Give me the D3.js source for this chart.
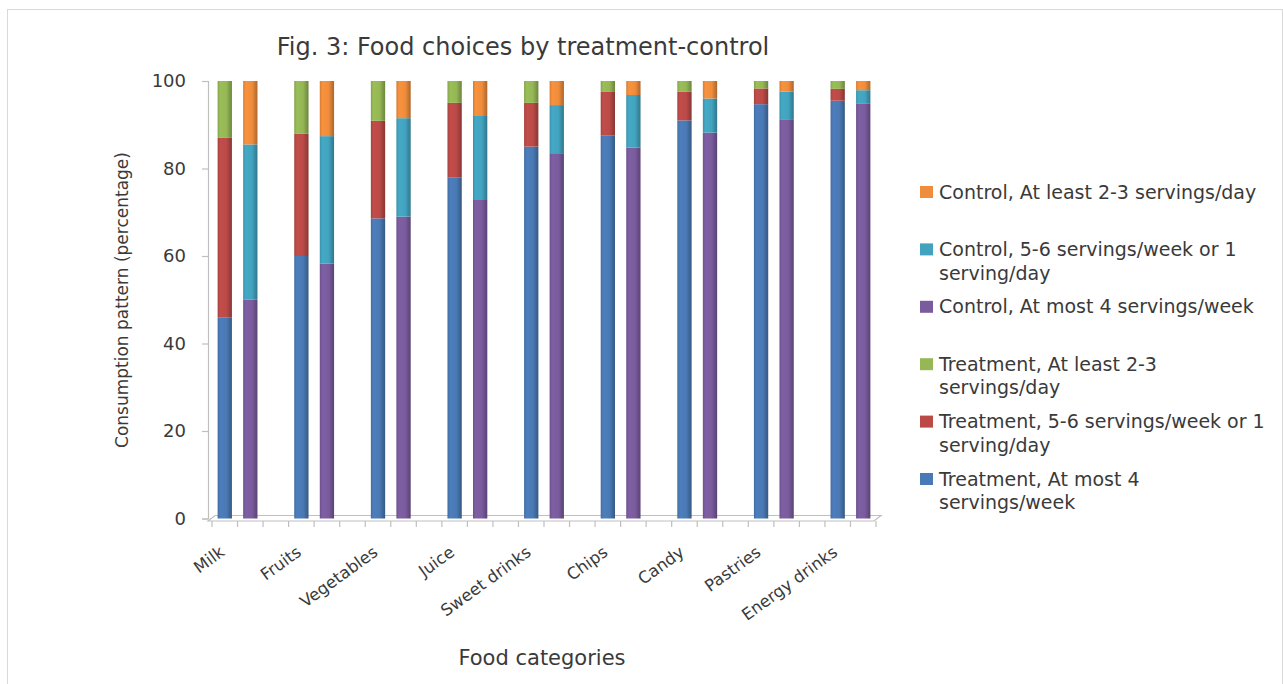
<!DOCTYPE html>
<html><head><meta charset="utf-8">
<script src="https://cdn.jsdelivr.net/npm/d3@7"></script>
<style>
body{margin:0;background:#fff}
svg{display:block}
text{font-family:"DejaVu Sans",sans-serif;fill:#3a3a3a}
</style>
</head><body>
<svg id="c" width="1283" height="684"></svg>
<script>
const categories = ["Milk","Fruits","Vegetables","Juice","Sweet drinks","Chips","Candy","Pastries","Energy drinks"];
const treatmentAtMost4    = [46, 60, 68.6, 78, 85, 87.5, 91, 94.7, 95.5];
const treatment56         = [41, 28, 22.3, 17, 10, 10, 6.6, 3.6, 2.7];
const treatmentAtLeast23  = [13, 12, 9.1, 5, 5, 2.5, 2.4, 1.7, 1.8];
const controlAtMost4      = [50, 58.3, 69, 72.8, 83.5, 84.8, 88.2, 91.1, 94.9];
const control56           = [35.5, 29.1, 22.5, 19.2, 11, 12, 7.8, 6.5, 3];
const controlAtLeast23    = [14.5, 12.6, 8.5, 8, 5.5, 3.2, 4, 2.4, 2.1];
const yTicks = [0, 20, 40, 60, 80, 100];
const title = "Fig. 3: Food choices by treatment-control";
const yTitle = "Consumption pattern (percentage)";
const xTitle = "Food categories";
const legendItems = [
  {key:"cHigh", lines:["Control, At least 2-3 servings/day"]},
  {key:"cMid",  lines:["Control, 5-6 servings/week or 1","serving/day"]},
  {key:"cLow",  lines:["Control, At most 4 servings/week"]},
  {key:"tHigh", lines:["Treatment, At least 2-3","servings/day"]},
  {key:"tMid",  lines:["Treatment, 5-6 servings/week or 1","serving/day"]},
  {key:"tLow",  lines:["Treatment, At most 4","servings/week"]}
];

const colors = {tLow:"#4a7ab5", tMid:"#bb4a47", tHigh:"#95b755", cLow:"#7a5c9e", cMid:"#42a3bf", cHigh:"#ef8d3c"};

const svg = d3.select("#c");
const defs = svg.append("defs");
Object.entries(colors).forEach(([k,c])=>{
  const g = defs.append("linearGradient").attr("id","g_"+k).attr("x1","0").attr("x2","1").attr("y1","0").attr("y2","0");
  const base = d3.color(c);
  g.append("stop").attr("offset","0%").attr("stop-color", base.darker(0.35));
  g.append("stop").attr("offset","18%").attr("stop-color", base.brighter(0.1));
  g.append("stop").attr("offset","62%").attr("stop-color", base);
  g.append("stop").attr("offset","100%").attr("stop-color", base.darker(0.9));
});

// outer border
svg.append("rect").attr("x",7.5).attr("y",9.5).attr("width",1275).attr("height",690)
  .attr("fill","none").attr("stroke","#d9d9d9");

// slots: Treatment, Control, gap per category
const slots = [];
categories.forEach((c,i)=>{
  slots.push(c+"|T"); slots.push(c+"|C");
  if(i < categories.length-1) slots.push(c+"|gap");
});

const x = d3.scaleBand().domain(slots).range([212, 876]).paddingInner(0.44).paddingOuter(0.22);
const y = d3.scaleLinear().domain([0,100]).range([518.5, 81]);

// floor (3D base)
const fx0 = x.range()[0]-4, fx1 = x.range()[1]-2, fy = y(0);
const floor = svg.append("g").attr("stroke","#bfbfbf").attr("fill","none").attr("stroke-width",1.2);
floor.append("path").attr("d",`M${fx0},${fy+2.5}L${fx1},${fy+2.5}L${fx1+7},${fy-3}L${fx0+7},${fy-3}Z`);

// y axis
const yAxis = svg.append("g").attr("transform",`translate(${fx0},0)`)
  .call(d3.axisLeft(y).tickValues(yTicks).tickSize(6).tickPadding(16));
yAxis.select(".domain").attr("stroke","#bfbfbf").attr("stroke-width",1.2);
yAxis.selectAll(".tick line").attr("stroke","#bfbfbf").attr("stroke-width",1.2);
yAxis.selectAll("text").style("font-size","18px").attr("fill","#3a3a3a").style("font-family","DejaVu Sans");

// x boundary ticks
const bounds = d3.range(slots.length+1).map(k => x.range()[0] + k*x.step());
svg.append("g").selectAll("line").data(bounds).join("line")
  .attr("x1",d=>d).attr("x2",d=>d).attr("y1",fy+2.5).attr("y2",fy+8.5)
  .attr("stroke","#bfbfbf").attr("stroke-width",1.2);

// bars
function drawGroup(suffix, low, mid, high, keys){
  const rows = categories.map((c,i)=>({cat:c, low:low[i], mid:mid[i], high:high[i]}));
  const stacked = d3.stack().keys(["low","mid","high"])(rows);
  stacked.forEach((layer,li)=>{
    svg.append("g").attr("fill",`url(#g_${keys[li]})`)
      .selectAll("rect").data(layer).join("rect")
      .attr("x", d=>x(d.data.cat+suffix))
      .attr("width", x.bandwidth())
      .attr("y", d=>y(d[1]))
      .attr("height", d=>y(d[0])-y(d[1]));
  });
}
drawGroup("|T", treatmentAtMost4, treatment56, treatmentAtLeast23, ["tLow","tMid","tHigh"]);
drawGroup("|C", controlAtMost4, control56, controlAtLeast23, ["cLow","cMid","cHigh"]);

// category labels
const xAxis = svg.append("g").attr("transform",`translate(0,${fy+8})`)
  .call(d3.axisBottom(x).tickValues(categories.map(c=>c+"|T")).tickFormat(d=>d.split("|")[0]).tickSize(0).tickPadding(0));
xAxis.select(".domain").remove();
xAxis.selectAll("text")
  .style("font-size","16.5px").style("font-family","DejaVu Sans").attr("fill","#3a3a3a")
  .attr("text-anchor","end").attr("dy","0")
  .attr("transform","translate(1,28) rotate(-36)");

// titles
svg.append("text").attr("x",523).attr("y",55).attr("text-anchor","middle")
  .style("font-size","24px").text(title);
svg.append("text").attr("transform","translate(128,300) rotate(-90)").attr("text-anchor","middle")
  .style("font-size","17px").text(yTitle);
svg.append("text").attr("x",542).attr("y",665).attr("text-anchor","middle")
  .style("font-size","21px").text(xTitle);

// legend
const ly = d3.scaleLinear().domain([0, legendItems.length-1]).range([192, 479]);
const lg = svg.append("g");
legendItems.forEach((it,i)=>{
  const cy = ly(i);
  lg.append("rect").attr("x",920).attr("y",cy-6).attr("width",13).attr("height",12).attr("fill",colors[it.key]);
  const t = lg.append("text").attr("x",939).attr("y",cy).style("font-size","19px");
  it.lines.forEach((ln,j)=>{
    t.append("tspan").attr("x",939).attr("dy", j===0 ? "0.35em" : "23.5px").text(ln);
  });
});
</script>
</body></html>
